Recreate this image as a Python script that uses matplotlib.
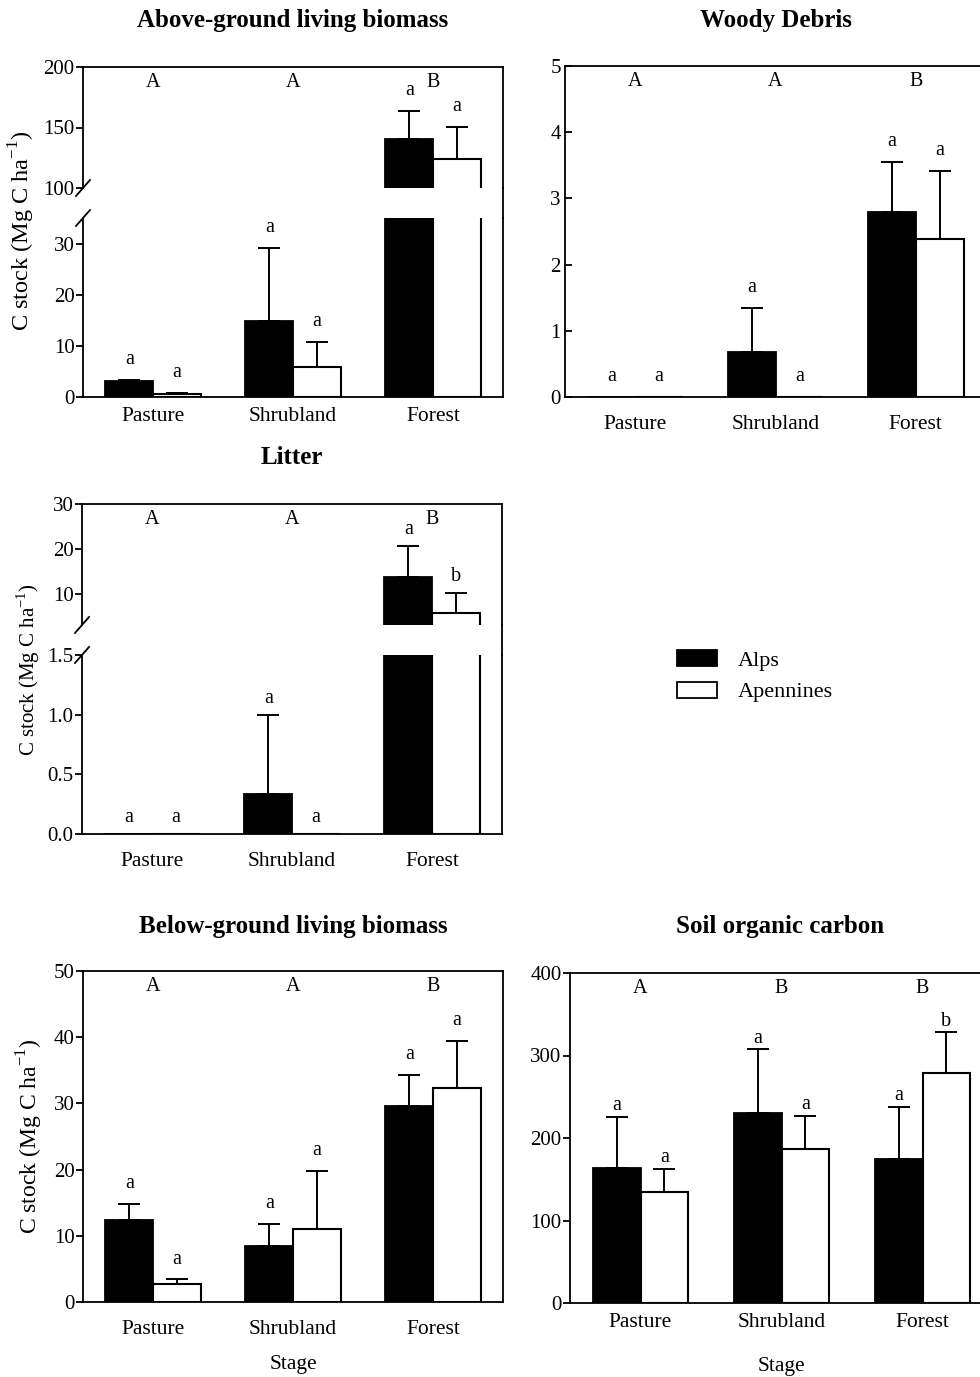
import numpy as np
import matplotlib
matplotlib.use("Agg")
import matplotlib.pyplot as plt
from matplotlib.patches import Patch
from matplotlib.lines import Line2D

plt.rcParams['font.family'] = ['Liberation Serif', 'DejaVu Serif']
plt.rcParams['mathtext.fontset'] = 'custom'
plt.rcParams['mathtext.rm'] = 'Liberation Serif'
plt.rcParams['axes.linewidth'] = 1.3

stages = ['Pasture', 'Shrubland', 'Forest']

# Above-ground living biomass
agb_alps = [3.1, 14.9, 140.9]
agb_alps_err = [0.3, 14.3, 22.4]
agb_ape = [0.5, 5.8, 123.8]
agb_ape_err = [0.2, 4.9, 26.7]
agb_let_alps = ['a', 'a', 'a']
agb_let_ape = ['a', 'a', 'a']
agb_group = ['A', 'A', 'B']

# Woody debris
wd_alps = [0.0, 0.68, 2.80]
wd_alps_err = [0.0, 0.66, 0.75]
wd_ape = [0.0, 0.0, 2.39]
wd_ape_err = [0.0, 0.0, 1.03]
wd_let_alps = ['a', 'a', 'a']
wd_let_ape = ['a', 'a', 'a']
wd_group = ['A', 'A', 'B']

# Litter
lit_alps = [0.0, 0.333, 13.6]
lit_alps_err = [0.0, 0.667, 7.1]
lit_ape = [0.0, 0.0, 5.7]
lit_ape_err = [0.0, 0.0, 4.4]
lit_let_alps = ['a', 'a', 'a']
lit_let_ape = ['a', 'a', 'b']
lit_group = ['A', 'A', 'B']

# Below-ground living biomass
bgb_alps = [12.4, 8.5, 29.6]
bgb_alps_err = [2.45, 3.3, 4.7]
bgb_ape = [2.7, 11.0, 32.3]
bgb_ape_err = [0.7, 8.8, 7.1]
bgb_let_alps = ['a', 'a', 'a']
bgb_let_ape = ['a', 'a', 'a']
bgb_group = ['A', 'A', 'B']

# Soil organic carbon
soc_alps = [164, 230, 174]
soc_alps_err = [62, 78, 64]
soc_ape = [135, 187, 279]
soc_ape_err = [28, 40, 49]
soc_let_alps = ['a', 'a', 'a']
soc_let_ape = ['a', 'a', 'b']
soc_group = ['A', 'B', 'B']

W, H = 980, 1377
fig = plt.figure(figsize=(W / 100, H / 100), dpi=100)


def box(x0, y0, x1, y1):
    return [x0 / W, 1 - y1 / H, (x1 - x0) / W, (y1 - y0) / H]


x = np.arange(3)
bw = 0.34
TICK = 15
CAT = 15.5
LET = 14.5


def draw_bars(ax, alps, alps_err, ape, ape_err):
    alps = np.array(alps, float)
    ape = np.array(ape, float)
    ae = np.array(alps_err, float)
    pe = np.array(ape_err, float)
    ax.bar(x - bw / 2, alps, bw, color='black', edgecolor='black', lw=1.3, zorder=2)
    ax.bar(x + bw / 2, ape, bw, color='white', edgecolor='black', lw=1.5, zorder=2)
    for xs, v, e in [(x - bw / 2, alps, ae), (x + bw / 2, ape, pe)]:
        m = e > 0
        ax.errorbar(xs[m], v[m], yerr=[np.zeros(m.sum()), e[m]], fmt='none',
                    ecolor='black', elinewidth=1.4, capsize=8, capthick=1.4, zorder=1)


def letters(axes, alps, alps_err, ape, ape_err, la, lp, off):
    tops = [(x - bw / 2, np.add(alps, alps_err), la), (x + bw / 2, np.add(ape, ape_err), lp)]
    for xs, ts, ls in tops:
        for xi, t, l in zip(xs, ts, ls):
            for ax in axes:
                lo, hi = ax.get_ylim()
                if lo <= t <= hi:
                    ax.annotate(l, (xi, t), xytext=(0, off), textcoords='offset points',
                                ha='center', va='baseline', fontsize=LET)
                    break


def group_letters(ax, grp, off=-11.5):
    for xi, g in zip(x, grp):
        ax.annotate(g, (xi, 1), xycoords=('data', 'axes fraction'), xytext=(0, off),
                    textcoords='offset points', ha='center', va='center', fontsize=LET)


def style(ax, direction='out'):
    ax.set_xlim(-0.5, 2.5)
    ax.tick_params(axis='y', direction=direction, length=5, width=1.3, labelsize=TICK, pad=1)
    ax.tick_params(axis='x', length=0, labelsize=CAT)


def broken(top_box, bot_box, top_lim, bot_lim, top_ticks, bot_ticks, fmt):
    axt = fig.add_axes(box(*top_box))
    axb = fig.add_axes(box(*bot_box))
    for a in (axt, axb):
        style(a)
    axt.set_ylim(*top_lim)
    axb.set_ylim(*bot_lim)
    axt.set_yticks(top_ticks)
    axb.set_yticks(bot_ticks)
    axb.set_yticklabels([fmt.format(t) for t in bot_ticks])
    axt.spines['bottom'].set_visible(False)
    axb.spines['top'].set_visible(False)
    axt.set_xticks([])
    axb.set_xticks(x)
    axb.set_xticklabels(stages)
    # break marks on the left spine
    for a, yy in ((axt, 0), (axb, 1)):
        bb = a.get_position()
        dx = 7 / (bb.width * W)
        dy = 8 / (bb.height * H)
        a.plot([-dx, dx], [yy - dy, yy + dy], transform=a.transAxes, color='black',
               lw=1.3, clip_on=False)
    # right spine continues through the gap
    xr = top_box[2] / W
    fig.add_artist(Line2D([xr, xr], [1 - top_box[3] / H, 1 - bot_box[1] / H],
                          color='black', lw=1.3))
    return axt, axb


ylab = r'C stock (Mg C ha$^{\mathrm{-1}}$)'

# Panel 1: above-ground
a1t, a1b = broken((83, 67, 503, 188), (83, 218, 503, 397), (100, 200), (0, 35),
                  [100, 150, 200], [0, 10, 20, 30], '{:d}')
for a in (a1t, a1b):
    draw_bars(a, agb_alps, agb_alps_err, agb_ape, agb_ape_err)
letters([a1t, a1b], agb_alps, agb_alps_err, agb_ape, agb_ape_err, agb_let_alps, agb_let_ape, 11.5)
group_letters(a1t, agb_group)
a1b.tick_params(axis='x', pad=7)
a1b.set_ylabel(ylab, fontsize=17.5)
a1b.yaxis.set_label_coords(-0.11, 0.927)

# Panel 2: woody debris
a2 = fig.add_axes(box(565, 66, 986, 397))
style(a2, 'in')
a2.set_ylim(0, 5)
a2.set_yticks([0, 1, 2, 3, 4, 5])
a2.set_xticks(x)
a2.set_xticklabels(stages)
a2.tick_params(axis='x', pad=13)
a2.tick_params(axis='y', pad=3)
draw_bars(a2, wd_alps, wd_alps_err, wd_ape, wd_ape_err)
letters([a2], wd_alps, wd_alps_err, wd_ape, wd_ape_err, wd_let_alps, wd_let_ape, 11.5)
group_letters(a2, wd_group)

# Panel 3: litter
a3t, a3b = broken((82, 504, 502, 625), (82, 655, 502, 834), (3, 30), (0, 1.5),
                  [10, 20, 30], [0, 0.5, 1.0, 1.5], '{:.1f}')
for a in (a3t, a3b):
    draw_bars(a, lit_alps, lit_alps_err, lit_ape, lit_ape_err)
letters([a3t, a3b], lit_alps, lit_alps_err, lit_ape, lit_ape_err, lit_let_alps, lit_let_ape, 8.5)
group_letters(a3t, lit_group)
a3b.tick_params(axis='x', pad=13)
a3b.set_ylabel(ylab, fontsize=15)
a3b.yaxis.set_label_coords(-0.095, 0.916)

# Panel 4: below-ground
a4 = fig.add_axes(box(83, 971, 503, 1302))
style(a4)
a4.set_ylim(0, 50)
a4.set_yticks([0, 10, 20, 30, 40, 50])
a4.set_xticks(x)
a4.set_xticklabels(stages)
a4.tick_params(axis='x', pad=13)
draw_bars(a4, bgb_alps, bgb_alps_err, bgb_ape, bgb_ape_err)
letters([a4], bgb_alps, bgb_alps_err, bgb_ape, bgb_ape_err, bgb_let_alps, bgb_let_ape, 11.5)
group_letters(a4, bgb_group)
a4.set_ylabel(ylab, fontsize=17)
a4.yaxis.set_label_coords(-0.09, 0.5)
a4.set_xlabel('Stage', fontsize=CAT, labelpad=11.5)

# Panel 5: soil organic carbon
a5 = fig.add_axes(box(570, 973, 993, 1303))
style(a5)
a5.set_ylim(0, 400)
a5.set_yticks([0, 100, 200, 300, 400])
a5.set_xticks(x)
a5.set_xticklabels(stages)
a5.tick_params(axis='x', pad=7)
draw_bars(a5, soc_alps, soc_alps_err, soc_ape, soc_ape_err)
letters([a5], soc_alps, soc_alps_err, soc_ape, soc_ape_err, soc_let_alps, soc_let_ape, 4.5)
group_letters(a5, soc_group)
a5.set_xlabel('Stage', fontsize=CAT, labelpad=18)

# titles
for t, cx, cy in [('Above-ground living biomass', 293, 21), ('Woody Debris', 776, 21),
                  ('Litter', 292, 458), ('Below-ground living biomass', 293, 927),
                  ('Soil organic carbon', 780, 927)]:
    fig.text(cx / W, 1 - cy / H, t, ha='center', va='center', fontsize=18, fontweight='bold')

# legend
handles = [Patch(facecolor='black', edgecolor='black', lw=1.3),
           Patch(facecolor='white', edgecolor='black', lw=1.3)]
fig.legend(handles, ['Alps', 'Apennines'], loc='upper left',
           bbox_to_anchor=(657 / W, 1 - 630 / H), frameon=False, fontsize=16,
           handlelength=1.8, handleheight=0.72, handletextpad=0.95, labelspacing=0.5)

fig.savefig('out.png', dpi=100)
